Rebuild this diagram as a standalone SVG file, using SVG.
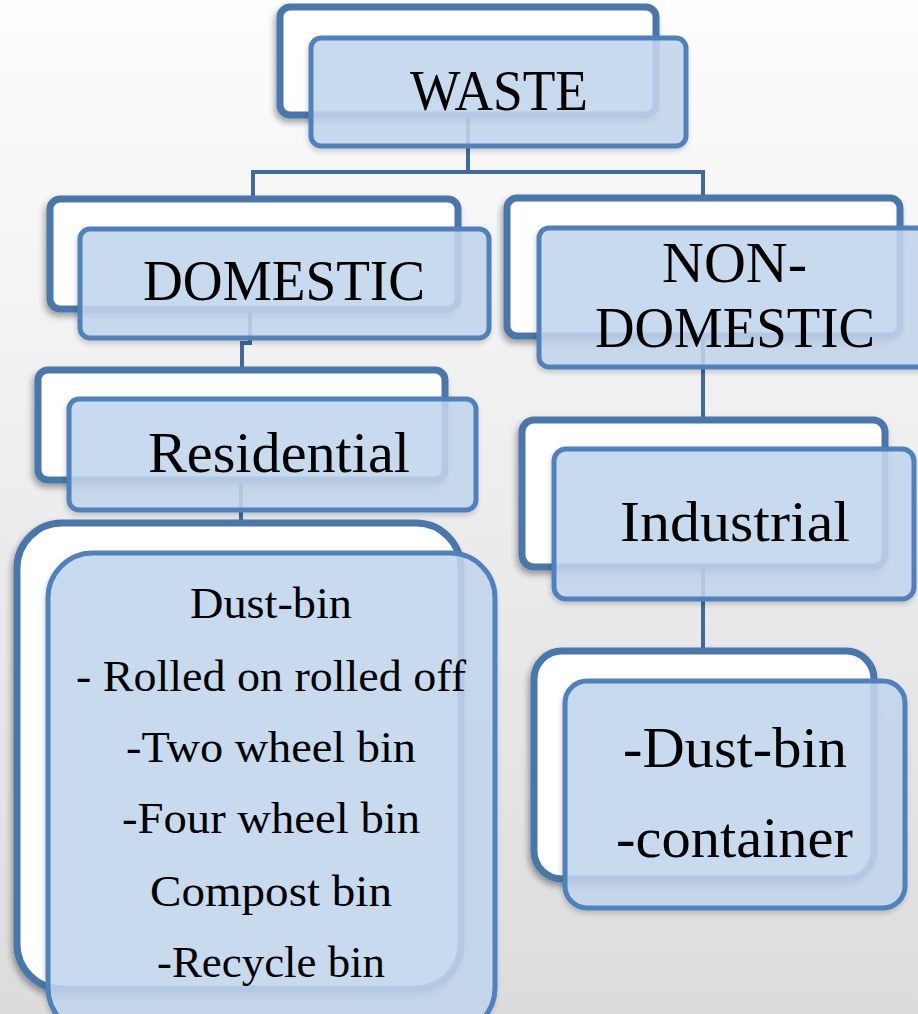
<svg xmlns="http://www.w3.org/2000/svg" width="918" height="1014" viewBox="0 0 918 1014">
<defs>
<linearGradient id="bg" x1="0" y1="0" x2="0" y2="1">
<stop offset="0" stop-color="#fdfdfd"/>
<stop offset="1" stop-color="#dcdcdc"/>
</linearGradient>
<filter id="sh" x="-10%" y="-10%" width="120%" height="125%">
<feDropShadow dx="-2" dy="4" stdDeviation="3" flood-color="#000" flood-opacity="0.35"/>
</filter>
<filter id="sh2" x="-10%" y="-10%" width="120%" height="125%">
<feDropShadow dx="-1" dy="3" stdDeviation="2.5" flood-color="#000" flood-opacity="0.18"/>
</filter>
</defs>
<style>
.back{fill:#ffffff;stroke:#4a76ab;stroke-width:7;filter:url(#sh)}
.front{fill:#c4d7ef;fill-opacity:0.86;stroke:#4f81bd;stroke-width:5;filter:url(#sh2)}
.conn{fill:none;stroke:#3f6a9b;stroke-width:4}
.t{font-family:"Liberation Serif","DejaVu Serif",serif;fill:#000;text-anchor:start}
.big{font-size:56px}
.small{font-size:45px}
</style>
<rect width="918" height="1014" fill="url(#bg)"/>
<g id="connectors">
<path class="conn" d="M468,112 V172 M253,172 H703 M253,170 V200 M703,170 V200"/>
<path class="conn" d="M250,308 V343 H242 V372"/>
<path class="conn" d="M703,334 V422"/>
<path class="conn" d="M241,478 V495 M241,495 V524"/>
<path class="conn" d="M703,565 V654"/>
</g>
<g id="node-waste">
<rect class="back" x="280" y="7" width="376" height="108" rx="10"/>
<rect class="front" x="311" y="38" width="375" height="108" rx="10"/>
<text class="t big" x="410" y="110" textLength="178" lengthAdjust="spacingAndGlyphs">WASTE</text>
</g>
<g id="node-domestic">
<rect class="back" x="50" y="199" width="408" height="110" rx="10"/>
<rect class="front" x="80" y="229" width="409" height="109" rx="10"/>
<text class="t big" x="143" y="300" textLength="282" lengthAdjust="spacingAndGlyphs">DOMESTIC</text>
</g>
<g id="node-nondomestic">
<rect class="back" x="507" y="198" width="393" height="138" rx="10"/>
<rect class="front" x="539" y="228" width="390" height="139" rx="10"/>
<text class="t big" x="662" y="282" textLength="145" lengthAdjust="spacingAndGlyphs">NON-</text>
<text class="t big" x="595" y="347" textLength="280" lengthAdjust="spacingAndGlyphs">DOMESTIC</text>
</g>
<g id="node-residential">
<rect class="back" x="38" y="370" width="407" height="110" rx="10"/>
<rect class="front" x="69" y="399" width="407" height="111" rx="10"/>
<text class="t big" x="148" y="472" textLength="262" lengthAdjust="spacingAndGlyphs">Residential</text>
</g>
<g id="node-industrial">
<rect class="back" x="522" y="420" width="363" height="147" rx="12"/>
<rect class="front" x="554" y="449" width="360" height="150" rx="12"/>
<text class="t big" x="620" y="541" textLength="230" lengthAdjust="spacingAndGlyphs">Industrial</text>
</g>
<g id="node-bins-residential">
<rect class="back" x="17" y="523" width="444" height="466" rx="45"/>
<rect class="front" x="48" y="553" width="447" height="480" rx="45"/>
<text class="t small" x="190" y="618" textLength="162" lengthAdjust="spacingAndGlyphs">Dust-bin</text>
<text class="t small" x="76" y="691" textLength="390" lengthAdjust="spacingAndGlyphs">- Rolled on rolled off</text>
<text class="t small" x="126" y="762" textLength="290" lengthAdjust="spacingAndGlyphs">-Two wheel bin</text>
<text class="t small" x="122" y="833" textLength="298" lengthAdjust="spacingAndGlyphs">-Four wheel bin</text>
<text class="t small" x="150" y="906" textLength="242" lengthAdjust="spacingAndGlyphs">Compost bin</text>
<text class="t small" x="157" y="977" textLength="228" lengthAdjust="spacingAndGlyphs">-Recycle bin</text>
</g>
<g id="node-bins-industrial">
<rect class="back" x="534" y="651" width="340" height="228" rx="28"/>
<rect class="front" x="565" y="681" width="340" height="227" rx="22"/>
<text class="t big" x="623" y="767" textLength="224" lengthAdjust="spacingAndGlyphs">-Dust-bin</text>
<text class="t big" x="616" y="857" textLength="237" lengthAdjust="spacingAndGlyphs">-container</text>
</g>
</svg>
